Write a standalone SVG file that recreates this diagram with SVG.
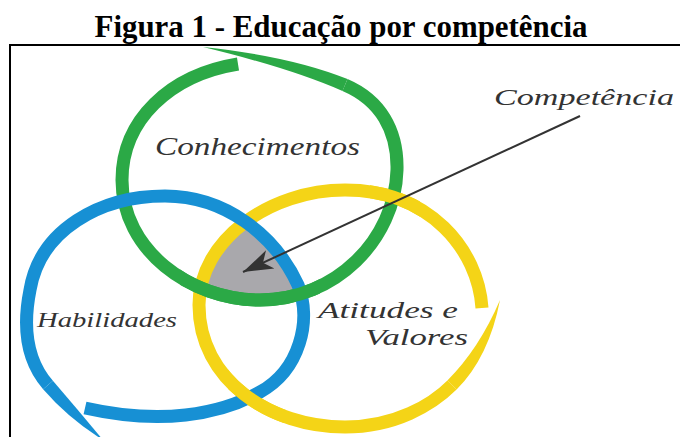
<svg xmlns="http://www.w3.org/2000/svg" xmlns:xlink="http://www.w3.org/1999/xlink" width="680" height="437" viewBox="0 0 680 437">
  <style>
    .title { font-family: "Liberation Serif", "Times New Roman", serif; font-weight: bold; font-size: 31px; fill: #000; }
    .lbl { font-family: "Liberation Serif", "DejaVu Serif", serif; font-style: italic; fill: #333; }
    .ring { fill: none; stroke-linecap: butt; stroke-linejoin: round; }
    .green { stroke: #2ba946; stroke-width: 13; }
    .blue { stroke: #1790d4; stroke-width: 13; }
    .yellow { stroke: #f4d417; stroke-width: 13; }
    .frame { stroke: #000; stroke-width: 2; fill: none; }
    .arrow { stroke: #333; stroke-width: 2; fill: none; }
  </style>
  <defs>
    <path id="gp" d="M 238,64 C 170,75 122,120 122,180 C 122,250 190,300 260,300 C 335,300 395,240 397,170 C 398,130 380,100 345,85"/>
    <path id="bp" d="M 48,385 C 28,362 22,330 30,290 C 40,230 100,196 165,196 C 225,196 275,235 298,285 C 312,320 300,370 260,392 C 220,415 160,425 85,408"/>
    <path id="yp" d="M 482,308 C 478,250 430,190 345,190 C 270,190 199,240 199,305 C 199,380 270,427 345,427 C 395,427 432,405 452,385"/>
    <clipPath id="cg"><path d="M 238,64 C 170,75 122,120 122,180 C 122,250 190,300 260,300 C 335,300 395,240 397,170 C 398,130 380,100 345,85 Z"/></clipPath>
    <clipPath id="cb"><path d="M 48,385 C 28,362 22,330 30,290 C 40,230 100,196 165,196 C 225,196 275,235 298,285 C 312,320 300,370 260,392 C 220,415 160,425 85,408 Z"/></clipPath>
    <clipPath id="cy"><path d="M 482,308 C 478,250 430,190 345,190 C 270,190 199,240 199,305 C 199,380 270,427 345,427 C 395,427 432,405 452,385 Z"/></clipPath>
    <clipPath id="w1"><rect x="180" y="268" width="140" height="48"/></clipPath>
    <clipPath id="w2"><rect x="370" y="172" width="50" height="55"/></clipPath>
    <clipPath id="w3"><rect x="228" y="368" width="58" height="55"/></clipPath>
    <marker id="head" markerUnits="userSpaceOnUse" markerWidth="34" markerHeight="24" viewBox="0 -12 34 24" refX="30" refY="0" orient="auto">
      <path d="M 30,0 L 0,-10 L 8,0 L 0,10 Z" fill="#333"/>
    </marker>
  </defs>

  <rect width="680" height="437" fill="#fff"/>

  <g id="title">
    <text class="title" x="341" y="37" text-anchor="middle" textLength="493" lengthAdjust="spacingAndGlyphs">Figura 1 - Educação por competência</text>
  </g>

  <g id="frame">
    <path class="frame" d="M 10,437 L 10,45 L 680,45"/>
  </g>

  <g id="competencia-area">
    <g clip-path="url(#cg)">
      <g clip-path="url(#cb)">
        <rect x="0" y="0" width="680" height="437" fill="#a9a8ac" clip-path="url(#cy)"/>
      </g>
    </g>
  </g>

  <g id="atitudes-valores">
    <use xlink:href="#yp" class="ring yellow"/>
    <path d="M 447.4,380.4 Q 479,349 500,300 Q 489,357 456.6,389.6 Z" fill="#f4d417"/>
    <text class="lbl" x="318" y="318" font-size="23" textLength="140" lengthAdjust="spacingAndGlyphs">Atitudes e</text>
    <text class="lbl" x="365" y="345" font-size="23" textLength="103" lengthAdjust="spacingAndGlyphs">Valores</text>
  </g>

  <g id="conhecimentos">
    <use xlink:href="#gp" class="ring green"/>
    <path d="M 347.5,79 Q 290,56 203,47 Q 290,68 342.5,91 Z" fill="#2ba946"/>
    <text class="lbl" x="155" y="155" font-size="26" textLength="205" lengthAdjust="spacingAndGlyphs">Conhecimentos</text>
  </g>

  <g id="habilidades">
    <use xlink:href="#bp" class="ring blue"/>
    <path d="M 52.9,380.7 Q 79,411 103,440 Q 69,419 43.1,389.3 Z" fill="#1790d4"/>
    <text class="lbl" x="37" y="327" font-size="22" textLength="140" lengthAdjust="spacingAndGlyphs">Habilidades</text>
  </g>

  <g id="weave">
    <use xlink:href="#gp" class="ring green" clip-path="url(#w1)"/>
    <use xlink:href="#yp" class="ring yellow" clip-path="url(#w2)"/>
    <use xlink:href="#yp" class="ring yellow" clip-path="url(#w3)"/>
  </g>

  <g id="competencia-label">
    <text class="lbl" x="494" y="105" font-size="24" textLength="180" lengthAdjust="spacingAndGlyphs">Competência</text>
  </g>

  <g id="connectors">
    <line class="arrow" x1="580" y1="116" x2="243" y2="272" marker-end="url(#head)"/>
  </g>
</svg>
